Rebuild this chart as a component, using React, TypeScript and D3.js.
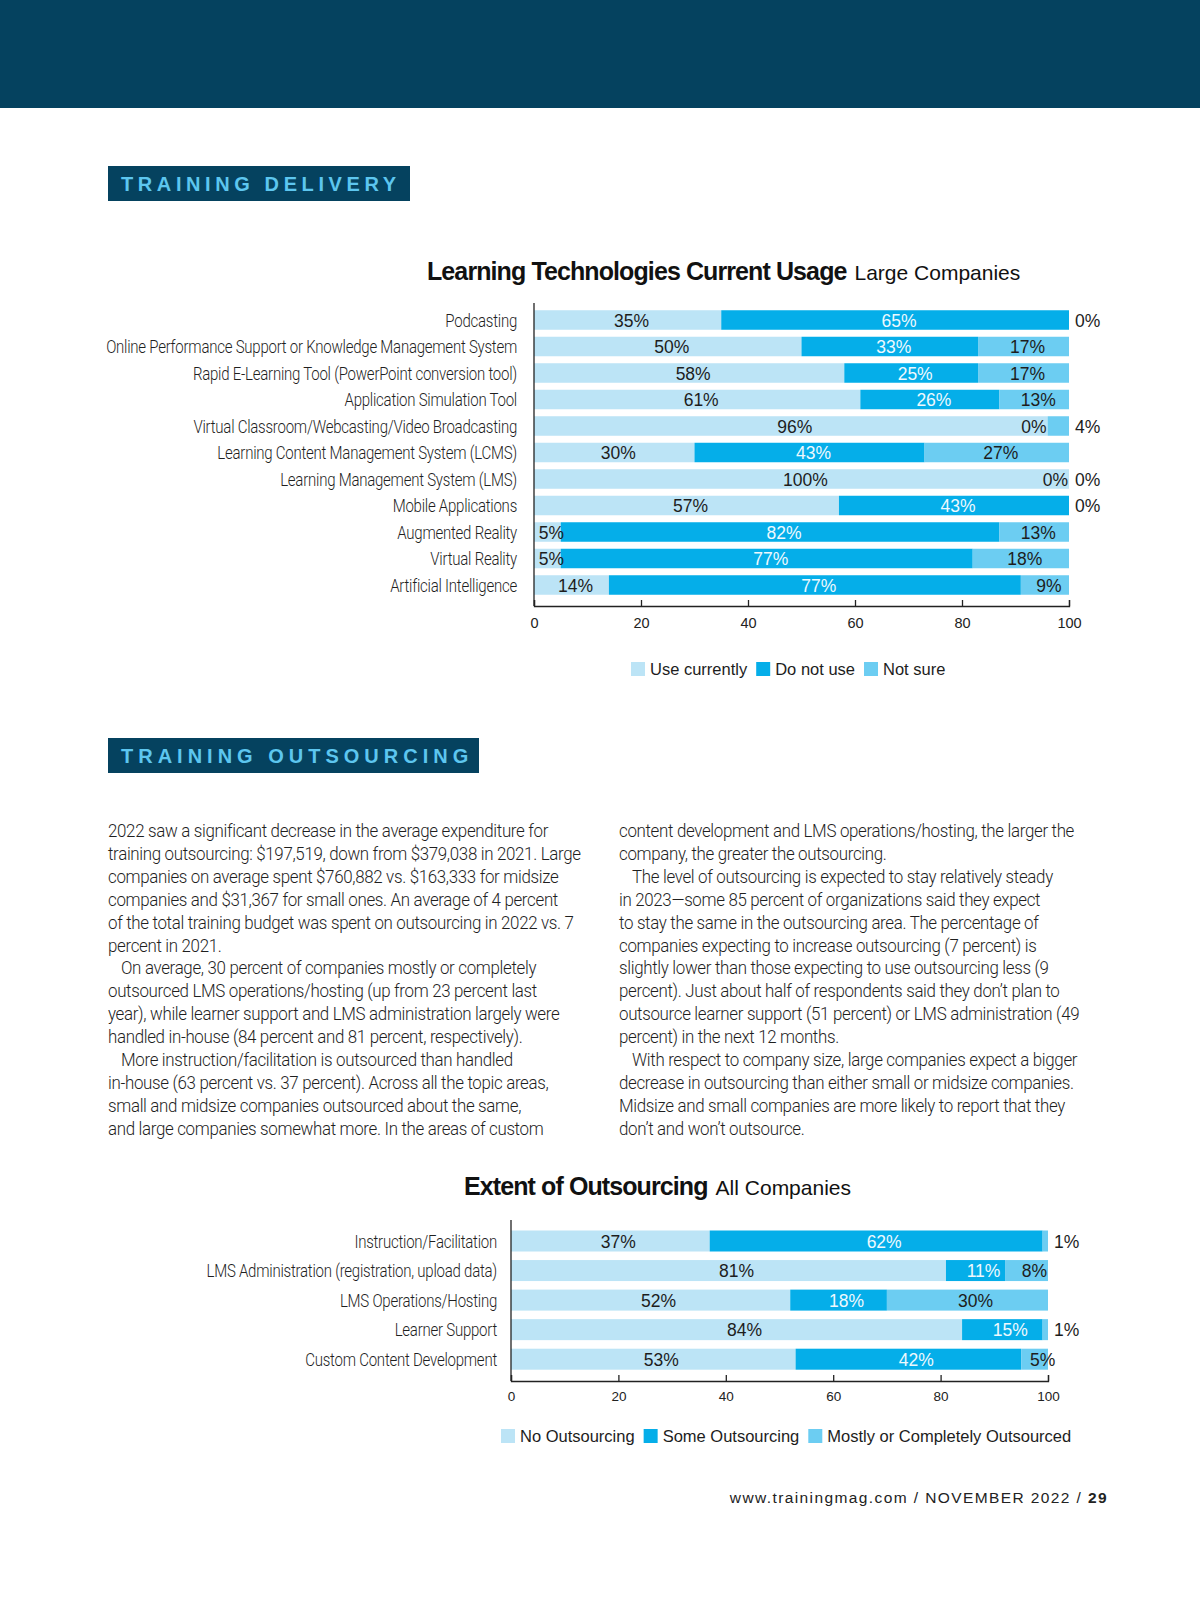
import * as d3 from 'd3'
import React, { useEffect, useRef } from 'react'

// chart 1: Learning Technologies Current Usage (Large Companies)
const techCategories = [
  'Podcasting',
  'Online Performance Support or Knowledge Management System',
  'Rapid E-Learning Tool (PowerPoint conversion tool)',
  'Application Simulation Tool',
  'Virtual Classroom/Webcasting/Video Broadcasting',
  'Learning Content Management System (LCMS)',
  'Learning Management System (LMS)',
  'Mobile Applications',
  'Augmented Reality',
  'Virtual Reality',
  'Artificial Intelligence',
]
const useCurrently = [35, 50, 58, 61, 96, 30, 100, 57, 5, 5, 14]
const doNotUse = [65, 33, 25, 26, 0, 43, 0, 43, 82, 77, 77]
const notSure = [0, 17, 17, 13, 4, 27, 0, 0, 13, 18, 9]
const techLegend = ['Use currently', 'Do not use', 'Not sure']

// chart 2: Extent of Outsourcing (All Companies)
const outCategories = [
  'Instruction/Facilitation',
  'LMS Administration (registration, upload data)',
  'LMS Operations/Hosting',
  'Learner Support',
  'Custom Content Development',
]
const noOutsourcing = [37, 81, 52, 84, 53]
const someOutsourcing = [62, 11, 18, 15, 42]
const mostlyOutsourced = [1, 8, 30, 1, 5]
const outLegend = ['No Outsourcing', 'Some Outsourcing', 'Mostly or Completely Outsourced']

const xTicks = [0, 20, 40, 60, 80, 100]

const leftLines = [
  '2022 saw a significant decrease in the average expenditure for',
  'training outsourcing: $197,519, down from $379,038 in 2021. Large',
  'companies on average spent $760,882 vs. $163,333 for midsize',
  'companies and $31,367 for small ones. An average of 4 percent',
  'of the total training budget was spent on outsourcing in 2022 vs. 7',
  'percent in 2021.',
  '\tOn average, 30 percent of companies mostly or completely',
  'outsourced LMS operations/hosting (up from 23 percent last',
  'year), while learner support and LMS administration largely were',
  'handled in-house (84 percent and 81 percent, respectively).',
  '\tMore instruction/facilitation is outsourced than handled',
  'in-house (63 percent vs. 37 percent). Across all the topic areas,',
  'small and midsize companies outsourced about the same,',
  'and large companies somewhat more. In the areas of custom',
]
const rightLines = [
  'content development and LMS operations/hosting, the larger the',
  'company, the greater the outsourcing.',
  '\tThe level of outsourcing is expected to stay relatively steady',
  'in 2023\u2014some 85 percent of organizations said they expect',
  'to stay the same in the outsourcing area. The percentage of',
  'companies expecting to increase outsourcing (7 percent) is',
  'slightly lower than those expecting to use outsourcing less (9',
  'percent). Just about half of respondents said they don\u2019t plan to',
  'outsource learner support (51 percent) or LMS administration (49',
  'percent) in the next 12 months.',
  '\tWith respect to company size, large companies expect a bigger',
  'decrease in outsourcing than either small or midsize companies.',
  'Midsize and small companies are more likely to report that they',
  'don\u2019t and won\u2019t outsource.',
]

const colors = ['#bce4f6', '#05aee9', '#6ccdf2']
const navy = '#05425f'
const sans = "'Liberation Sans', Arial, Helvetica, sans-serif"
const light = 'Roboto, sans-serif'

const drawChart = (svg: any, cfg: any) => {
  const { cats, series, x0, x1, firstCenter, step, barH, axisY, labelX } = cfg
  const x = d3.scaleLinear().domain([0, 100]).range([x0, x1])
  const p = 1 - barH / step
  const y = d3
    .scaleBand()
    .domain(cats)
    .range([firstCenter - step / 2, firstCenter - step / 2 + cats.length * step])
    .paddingInner(p)
    .paddingOuter(p / 2)

  const rows = cats.map((c: string, i: number) => ({ cat: c, a: series[0][i], b: series[1][i], c: series[2][i] }))
  const stacked = d3.stack().keys(['a', 'b', 'c'])(rows as any)

  const g = svg.append('g')

  stacked.forEach((layer: any, k: number) => {
    g.append('g')
      .selectAll('rect')
      .data(layer)
      .enter()
      .append('rect')
      .attr('x', (d: any) => x(d[0]))
      .attr('y', (d: any) => y(d.data.cat))
      .attr('width', (d: any) => x(d[1]) - x(d[0]))
      .attr('height', y.bandwidth())
      .attr('fill', colors[k])
  })

  // value labels
  stacked.forEach((layer: any, k: number) => {
    g.append('g')
      .selectAll('text')
      .data(layer)
      .enter()
      .append('text')
      .attr('x', (d: any) => {
        const v = d[1] - d[0]
        if (v < 5 && k === 2) return x(100) + 6
        if (v < 5 && k === 1) return x(d[1]) - 1
        return (x(d[0]) + x(d[1])) / 2 + cfg.labelShift
      })
      .attr('y', (d: any) => (y(d.data.cat) as number) + y.bandwidth() / 2)
      .attr('dy', '0.38em')
      .attr('text-anchor', (d: any) => {
        const v = d[1] - d[0]
        if (v < 5 && k === 2) return 'start'
        if (v < 5 && k === 1) return 'end'
        return 'middle'
      })
      .attr('font-family', sans)
      .attr('font-size', cfg.valueSize)
      .attr('fill', (d: any) => (k === 1 && d[1] - d[0] >= 5 ? '#eef9fe' : '#1d1d1d'))
      .text((d: any) => `${d[1] - d[0]}%`)
  })

  // category labels (condensed light)
  g.append('g')
    .selectAll('text')
    .data(cats)
    .enter()
    .append('text')
    .attr('transform', (d: string) => `translate(${labelX},${(y(d) as number) + y.bandwidth() / 2}) scale(${cfg.labelScale},1)`)
    .attr('dy', '0.36em')
    .attr('text-anchor', 'end')
    .attr('font-family', light)
    .attr('font-weight', 300)
    .attr('font-size', cfg.labelSize)
    .attr('letter-spacing', -0.3)
    .attr('fill', '#1f1f1f')
    .text((d: string) => d)

  // axes
  g.append('line')
    .attr('x1', x0)
    .attr('x2', x0)
    .attr('y1', cfg.axisTop)
    .attr('y2', axisY)
    .attr('stroke', '#222')
    .attr('stroke-width', 1.3)

  const axis = g
    .append('g')
    .attr('transform', `translate(0,${axisY})`)
    .call(
      d3
        .axisBottom(x)
        .tickValues(xTicks)
        .tickSizeInner(-6)
        .tickSizeOuter(-6)
        .tickPadding(cfg.tickPad)
        .tickFormat((d: any) => `${d}`),
    )
  axis.select('.domain').attr('stroke', '#222').attr('stroke-width', 1.3)
  axis.selectAll('.tick line').attr('stroke', '#222').attr('stroke-width', 1.3)
  axis
    .selectAll('.tick text')
    .attr('font-family', sans)
    .attr('font-size', cfg.tickSize)
    .attr('fill', '#222')

  // title
  const t = svg
    .append('text')
    .attr('x', cfg.titleX)
    .attr('y', cfg.titleY)
    .attr('fill', '#111')
  t.append('tspan')
    .attr('font-family', sans)
    .attr('font-weight', 'bold')
    .attr('font-size', 25)
    .attr('letter-spacing', -0.9)
    .text(cfg.title)
  t.append('tspan')
    .attr('font-family', sans)
    .attr('font-size', 21)
    .attr('dx', 8)
    .text(cfg.subtitle)

  // legend
  const lg = svg.append('g')
  let cx = cfg.legendX
  cfg.legend.forEach((name: string, k: number) => {
    lg.append('rect')
      .attr('x', cx)
      .attr('y', cfg.legendY - 13)
      .attr('width', 14)
      .attr('height', 14)
      .attr('fill', colors[k])
    const tx = lg
      .append('text')
      .attr('x', cx + 19)
      .attr('y', cfg.legendY)
      .attr('font-family', sans)
      .attr('font-size', 16.5)
      .attr('fill', '#1d1d1d')
      .text(name)
    const w = (tx.node() as SVGTextElement).getComputedTextLength()
    cx += 19 + w + 9
  })
}

const sectionBox = (svg: any, x: number, y: number, w: number, label: string, spacing: number) => {
  svg.append('rect').attr('x', x).attr('y', y).attr('width', w).attr('height', 35).attr('fill', navy)
  svg
    .append('text')
    .attr('x', x + 13)
    .attr('y', y + 25)
    .attr('font-family', sans)
    .attr('font-weight', 'bold')
    .attr('font-size', 20)
    .attr('letter-spacing', spacing)
    .attr('fill', '#5dc6ef')
    .text(label)
}

const App = () => {
  const ref = useRef<SVGSVGElement>(null)

  useEffect(() => {
    const svg = d3.select(ref.current)
    svg.selectAll('*').remove()

    svg.append('rect').attr('width', 1200).attr('height', 1613).attr('fill', '#fff')
    svg.append('rect').attr('width', 1200).attr('height', 108).attr('fill', navy)

    sectionBox(svg, 108, 166, 302, 'TRAINING DELIVERY', 4.6)
    sectionBox(svg, 108, 738, 371, 'TRAINING OUTSOURCING', 5)

    drawChart(svg, {
      cats: techCategories,
      series: [useCurrently, doNotUse, notSure],
      x0: 534,
      x1: 1069,
      firstCenter: 320,
      step: 26.5,
      barH: 19.5,
      axisTop: 303,
      axisY: 606,
      labelX: 517,
      labelSize: 19,
      labelScale: 0.79,
      labelShift: 4,
      valueSize: 17.5,
      tickSize: 14.5,
      tickPad: 12,
      title: 'Learning Technologies Current Usage',
      subtitle: 'Large Companies',
      titleX: 427,
      titleY: 280,
      legend: techLegend,
      legendX: 631,
      legendY: 675,
    })

    drawChart(svg, {
      cats: outCategories,
      series: [noOutsourcing, someOutsourcing, mostlyOutsourced],
      x0: 511,
      x1: 1048,
      firstCenter: 1241,
      step: 29.55,
      barH: 21,
      axisTop: 1220,
      axisY: 1381,
      labelX: 497,
      labelSize: 19,
      labelScale: 0.79,
      labelShift: 8,
      valueSize: 17.5,
      tickSize: 13.5,
      tickPad: 10,
      title: 'Extent of Outsourcing',
      subtitle: 'All Companies',
      titleX: 464,
      titleY: 1195,
      legend: outLegend,
      legendX: 501,
      legendY: 1442,
    })

    // body text columns
    const writeColumn = (lines: string[], x: number) => {
      svg
        .append('g')
        .selectAll('text')
        .data(lines)
        .enter()
        .append('text')
        .attr(
          'transform',
          (d: string, i: number) => `translate(${d.startsWith('\t') ? x + 13 : x},${837 + i * 22.9}) scale(0.94,1)`,
        )
        .attr('font-family', light)
        .attr('font-weight', 300)
        .attr('font-size', 18)
        .attr('letter-spacing', -0.35)
        .attr('fill', '#1f1f1f')
        .text((d: string) => d.replace('\t', ''))
    }
    writeColumn(leftLines, 108)
    writeColumn(rightLines, 619)

    // footer
    const f = svg
      .append('text')
      .attr('x', 1108)
      .attr('y', 1503)
      .attr('text-anchor', 'end')
      .attr('font-family', sans)
      .attr('font-size', 15.5)
      .attr('letter-spacing', 1.4)
      .attr('fill', '#222')
    f.append('tspan').text('www.trainingmag.com / NOVEMBER 2022 / ')
    f.append('tspan').attr('font-weight', 'bold').text('29')
  }, [])

  return (
    <svg
      ref={ref}
      width={1200}
      height={1613}
      style={{ position: 'absolute', left: 0, top: 0, display: 'block' }}
    ></svg>
  )
}

export default App
